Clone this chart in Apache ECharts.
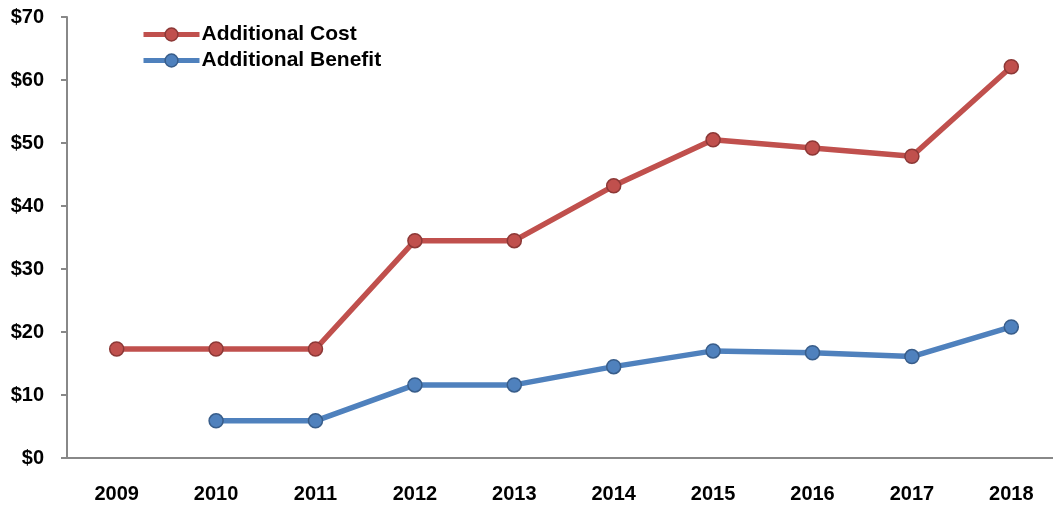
<!DOCTYPE html>
<html>
<head>
<meta charset="utf-8">
<script src="https://cdn.jsdelivr.net/npm/echarts@6/dist/echarts.min.js"></script>
<style>
  html, body { margin: 0; padding: 0; background: #fff; overflow: hidden; }
  /* plot area runs slightly past the right edge of the page */
  #chart { width: 1061px; height: 506px; }
</style>
</head>
<body>
<div id="chart"></div>
<script>
// Annual additional cost vs. additional benefit (dollars)
const years = ['2009', '2010', '2011', '2012', '2013', '2014', '2015', '2016', '2017', '2018'];
const additionalCost = [17.3, 17.3, 17.3, 34.5, 34.5, 43.2, 50.5, 49.2, 47.9, 62.1];
const additionalBenefit = [null, 5.9, 5.9, 11.6, 11.6, 14.5, 17.0, 16.7, 16.1, 20.8];

const FONT = '"Liberation Sans", Arial, sans-serif';
const AXIS_GREY = '#888888';
const COST_RED = '#C0504D';
const BENEFIT_BLUE = '#4F81BD';

const chart = echarts.init(document.getElementById('chart'), null, { renderer: 'canvas' });

chart.setOption({
  animation: false,
  backgroundColor: '#ffffff',
  grid: { left: 67, top: 17, right: 0, bottom: 48 },
  legend: {
    orient: 'vertical',
    left: 136,
    top: 19,
    itemWidth: 56,
    itemHeight: 16,
    itemGap: 5,
    textStyle: { fontFamily: FONT, fontWeight: 'bold', fontSize: 21, color: '#000', padding: [0, 0, 0, -3] },
    data: [
      { name: 'Additional Cost', itemStyle: { color: COST_RED, borderColor: '#8C3836', borderWidth: 1.5 }, lineStyle: { color: COST_RED, width: 5 } },
      { name: 'Additional Benefit', itemStyle: { color: BENEFIT_BLUE, borderColor: '#385D8A', borderWidth: 1.5 }, lineStyle: { color: BENEFIT_BLUE, width: 5 } }
    ]
  },
  xAxis: {
    type: 'category',
    data: years,
    boundaryGap: true,
    axisLine: { lineStyle: { color: AXIS_GREY, width: 2 } },
    axisTick: { alignWithLabel: true, length: 6, lineStyle: { color: AXIS_GREY, width: 2 } },
    axisLabel: { fontFamily: FONT, fontWeight: 'bold', fontSize: 20, color: '#000', margin: 26 }
  },
  yAxis: {
    type: 'value',
    min: 0,
    max: 70,
    interval: 10,
    splitLine: { show: false },
    axisLine: { show: true, lineStyle: { color: AXIS_GREY, width: 2 } },
    axisTick: { show: true, length: 6, lineStyle: { color: AXIS_GREY, width: 2 } },
    axisLabel: {
      fontFamily: FONT, fontWeight: 'bold', fontSize: 20, color: '#000', margin: 23,
      formatter: v => '$' + v
    }
  },
  series: [
    {
      name: 'Additional Cost',
      type: 'line',
      data: additionalCost,
      symbol: 'circle',
      symbolSize: 14,
      lineStyle: { color: COST_RED, width: 5.5 },
      itemStyle: { color: COST_RED, borderColor: '#8C3836', borderWidth: 1.5 }
    },
    {
      name: 'Additional Benefit',
      type: 'line',
      data: additionalBenefit,
      symbol: 'circle',
      symbolSize: 14,
      lineStyle: { color: BENEFIT_BLUE, width: 5.5 },
      itemStyle: { color: BENEFIT_BLUE, borderColor: '#385D8A', borderWidth: 1.5 }
    }
  ]
});
</script>
</body>
</html>
